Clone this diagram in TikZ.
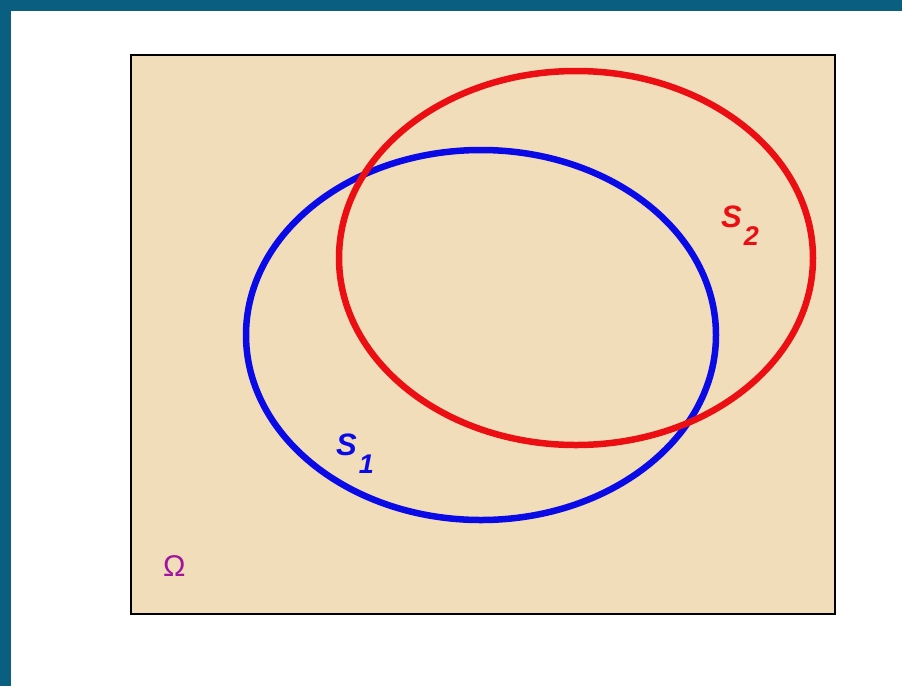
\documentclass[tikz,border=0pt]{standalone}
\usepackage{fontspec}
\setmainfont{Liberation Sans}
\definecolor{frame}{RGB}{10,94,128}
\definecolor{beige}{RGB}{242,221,186}
\definecolor{setblue}{RGB}{10,10,230}
\definecolor{setred}{RGB}{235,15,20}
\definecolor{omega}{RGB}{160,20,160}
\newcommand{\setlabel}[1]{\textit{S}\hspace{2pt}\raisebox{-18pt}{\fontsize{27}{27}\selectfont\textit{#1}}}

\begin{document}
\begin{tikzpicture}[x=1pt,y=-1pt]
 \tikzset{lbl/.style={inner sep=0pt,anchor=base west,font=\fontsize{31}{31}\selectfont\bfseries}}
 \useasboundingbox (0,0) rectangle (902,686);
 \fill[frame] (0,0) rectangle (902,11);
 \fill[frame] (0,0) rectangle (11,686);
 \draw[fill=beige,line width=1.3pt] (131,55) rectangle (835,614);
 \draw[setblue,line width=6.5pt] (481,335) ellipse (235 and 185);
 \draw[setred,line width=6.5pt] (576,258) ellipse (237 and 187);
 \node[lbl,setblue] (s1) at (336,455) {\setlabel{1}};
 \node[lbl,setred] (s2) at (721,227) {\setlabel{2}};
 \node[lbl,omega,font=\fontsize{30}{30}\selectfont] (om) at (163,576) {Ω};
\end{tikzpicture}
\end{document}
